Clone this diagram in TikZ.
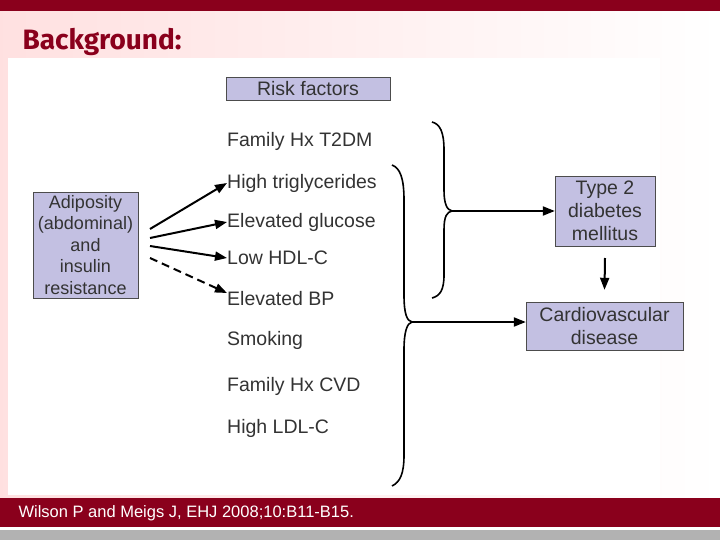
\documentclass[tikz,border=0pt]{standalone}
\usepackage{fontspec}
\setmainfont{Liberation Sans}
\newfontfamily\titlefont{Fira Sans}
\usetikzlibrary{arrows.meta}
\definecolor{dred}{HTML}{8A001C}
\definecolor{lav}{HTML}{C3C0E2}
\begin{document}
\begin{tikzpicture}[x=1pt,y=-1pt,
  box/.style={draw=black!70,fill=lav,align=center,font=\fontsize{19.5}{23}\selectfont,text=black!80,inner sep=1pt},
  item/.style={anchor=west,font=\fontsize{19.5}{22}\selectfont,text=black!80,inner sep=0pt},
  arr/.style={-{Triangle[length=12pt,width=9pt]},line width=2pt},
  br/.style={line width=1.6pt}]
\useasboundingbox (0,0) rectangle (720,540);
\shade[left color=red!12,right color=white] (0,11) rectangle (720,498);
\fill[dred] (0,0) rectangle (720,11);
\node[anchor=west,text=dred,font=\titlefont\bfseries\fontsize{28}{32}\selectfont] (title) at (19,42) {Background:};
\fill[white] (8,58) rectangle (660,495);
\fill[dred] (0,498) rectangle (720,527);
\fill[black!30] (0,530) rectangle (720,540);
\node[anchor=west,text=white,font=\fontsize{16.5}{19}\selectfont] (ref) at (15,513) {Wilson P and Meigs J, EHJ 2008;10:B11-B15.};
\node[box,minimum width=164pt,minimum height=23pt] (rf) at (308,89) {Risk factors};
\node[box,minimum width=105pt,minimum height=106pt,font=\fontsize{18}{21.5}\selectfont] (adi) at (85.5,245) {Adiposity\\(abdominal)\\and\\insulin\\resistance};
\node[box,minimum width=100pt,minimum height=70pt] (t2) at (605,211) {Type 2\\diabetes\\mellitus};
\node[box,minimum width=157pt,minimum height=48pt] (cvd) at (604.5,326) {Cardiovascular\\disease};
\node[item] (i1) at (227,141) {Family Hx T2DM};
\node[item] (i2) at (227,183) {High triglycerides};
\node[item] (i3) at (227,222) {Elevated glucose};
\node[item] (i4) at (227,258) {Low HDL-C};
\node[item] (i5) at (227,299) {Elevated BP};
\node[item] (i6) at (227,340) {Smoking};
\node[item] (i7) at (227,386) {Family Hx CVD};
\node[item] (i8) at (227,428) {High LDL-C};
\draw[arr] (150,229) -- (i2.west);
\draw[arr] (150,238) -- (i3.west);
\draw[arr] (150,246) -- (i4.west);
\draw[arr,dashed,dash pattern=on 8pt off 5pt] (150,258) -- ([yshift=6pt]i5.west);
% brace 1
\coordinate (b1) at (452,211);
\draw[br] (432,122) .. controls (440,124) and (444,132) .. (444,150) -- (444,190) .. controls (444,204) and (447,210) .. (b1)
 .. controls (447,212) and (444,216) .. (444,230) -- (444,275) .. controls (444,290) and (440,296) .. (432,298);
\draw[arr] (b1) -- (t2.west);
% brace 2
\coordinate (b2) at (412,322);
\draw[br] (392,165) .. controls (400,168) and (404,178) .. (404,200) -- (404,295) .. controls (404,314) and (407,321) .. (b2)
 .. controls (407,323) and (404,332) .. (404,350) -- (404,455) .. controls (404,474) and (400,482) .. (392,486);
\draw[arr] (b2) -- (b2-|cvd.west);
\coordinate (d1) at (605,258);
\draw[arr] (d1) -- ([yshift=12pt]cvd.north);
\end{tikzpicture}
\end{document}
